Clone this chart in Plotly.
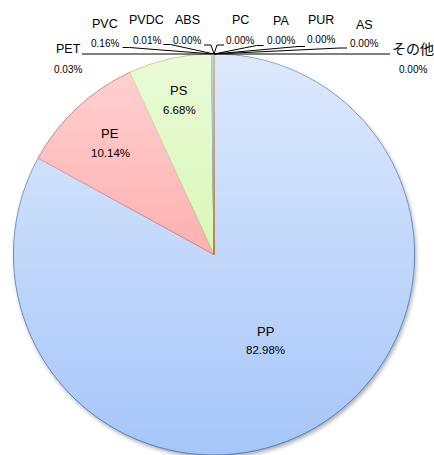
import base64
import math

import plotly.graph_objects as go

# Resin composition (share of total, %)
materials = ["PP", "PE", "PS", "PET", "PVC", "PVDC", "ABS", "PC", "PA", "PUR", "AS", "その他"]
shares = [82.98, 10.14, 6.68, 0.03, 0.16, 0.01, 0.00, 0.00, 0.00, 0.00, 0.00, 0.00]

fill_colors = ["#a6c6f9", "#ff8c8c", "#c8f496", "#8064a2", "#5ba9cf", "#f79646",
               "#c0c0c0", "#c0c0c0", "#c0c0c0", "#c0c0c0", "#c0c0c0", "#c0c0c0"]
line_colors = ["#4f81bd", "#c0504d", "#9bbb59", "#4d3b62", "#3a8fb0", "#984807",
               "#984807", "#984807", "#984807", "#984807", "#984807", "#984807"]

W, H = 434, 455
CX, R = 214.0, 200.5
CY = H - R
FONT = "Liberation Sans, Noto Sans CJK JP, sans-serif"


def fx(x):
    return x / W


def fy(y):
    return 1 - y / H


total = sum(shares)
mid_angles = []
acc = 0.0
for v in shares:
    mid_angles.append((acc + v / 2) / total * 360.0)
    acc += v


def edge_point(theta_deg, frac=1.0):
    t = math.radians(theta_deg)
    return CX + R * frac * math.sin(t), CY - R * frac * math.cos(t)


pct_text = [f"{v:.2f}%" for v in shares]

fig = go.Figure()
fig.add_trace(go.Pie(
    labels=materials,
    values=shares,
    sort=False,
    direction="clockwise",
    rotation=0,
    textinfo="none",
    hoverinfo="label+percent",
    marker=dict(colors=fill_colors, line=dict(color=line_colors, width=1)),
    domain=dict(x=[fx(CX - R), fx(CX + R)], y=[0, fy(CY - R)]),
    showlegend=False,
))

annotations = []
shapes = []

# labels inside the three large slices
inner_frac = {"PP": 0.5, "PE": 0.76, "PS": 0.79}
for i, name in enumerate(materials):
    if name not in inner_frac:
        continue
    x, y = edge_point(mid_angles[i], inner_frac[name])
    annotations.append(dict(x=fx(x), y=fy(y - 9.5), text=name, font=dict(size=13)))
    annotations.append(dict(x=fx(x), y=fy(y + 9.5), text=pct_text[i], font=dict(size=11.5)))

# callout labels for the small slices: name centre, value line, leader attach point, side
callouts = {
    "PET": (68, 49, 69, (82, 54), "left"),
    "PVC": (105, 24, 43, (122.5, 47.5), "left"),
    "PVDC": (146.5, 20, 40, (163.5, 44.5), "left"),
    "ABS": (187, 20, 40, (204, 45), "left"),
    "PC": (240, 20.5, 40.5, (224, 45), "right"),
    "PA": (280.5, 21, 40.5, (263.5, 45.5), "right"),
    "PUR": (321, 20, 39, (305, 46.5), "right"),
    "AS": (364, 25, 43.5, (347, 48), "right"),
    "その他": (413, 49, 69, (390, 54), "right"),
}
for i, name in enumerate(materials):
    if name not in callouts:
        continue
    cx, ny, vy, (ax, ay), side = callouts[name]
    name_size = 14 if name == "その他" else 12.5
    annotations.append(dict(x=fx(cx), y=fy(ny), text=name, font=dict(size=name_size)))
    annotations.append(dict(x=fx(cx), y=fy(vy), text=pct_text[i], font=dict(size=10)))
    ex, ey = edge_point(mid_angles[i])
    step = 7 if side == "left" else -7
    bx = ax + step
    if (side == "left" and bx > ex) or (side == "right" and bx < ex):
        bx = ax
    path = f"M {fx(ax)},{fy(ay)} L {fx(bx)},{fy(ay)} L {fx(ex)},{fy(ey)}"
    shapes.append(dict(type="path", path=path, xref="paper", yref="paper",
                       line=dict(color="#000000", width=1), layer="above"))

for a in annotations:
    a.update(xref="paper", yref="paper", showarrow=False,
             xanchor="center", yanchor="middle")
    a["font"].update(family=FONT, color="#000000")

# soft vertical sheen over the disc and a light drop shadow beneath it
sheen_svg = (
    '<svg xmlns="http://www.w3.org/2000/svg" width="200" height="200" viewBox="0 0 100 100" '
    'preserveAspectRatio="none"><defs><linearGradient id="g" x1="0" y1="0" x2="0" y2="1">'
    '<stop offset="0" stop-color="#ffffff" stop-opacity="0.62"/>'
    '<stop offset="1" stop-color="#ffffff" stop-opacity="0"/></linearGradient></defs>'
    '<circle cx="50" cy="50" r="50" fill="url(#g)"/></svg>'
)
pad = 10
size = 2 * R + 2 * pad
shadow_svg = (
    f'<svg xmlns="http://www.w3.org/2000/svg" width="{size}" height="{size}" '
    f'viewBox="0 0 {size} {size}"><defs><filter id="b" x="-10%" y="-10%" width="120%" height="120%">'
    '<feGaussianBlur stdDeviation="2"/></filter></defs>'
    f'<circle cx="{pad + R + 1.5}" cy="{pad + R + 2.5}" r="{R}" fill="#000000" '
    'fill-opacity="0.35" filter="url(#b)"/></svg>'
)


def data_uri(svg):
    return "data:image/svg+xml;base64," + base64.b64encode(svg.encode("utf-8")).decode("ascii")


images = [
    dict(source=data_uri(shadow_svg), xref="paper", yref="paper",
         x=fx(CX - R - pad), y=fy(CY - R - pad), sizex=size / W, sizey=size / H,
         xanchor="left", yanchor="top", sizing="stretch", layer="below"),
    dict(source=data_uri(sheen_svg), xref="paper", yref="paper",
         x=fx(CX - R), y=fy(CY - R), sizex=2 * R / W, sizey=2 * R / H,
         xanchor="left", yanchor="top", sizing="stretch", layer="above"),
]

fig.update_layout(
    width=W, height=H,
    margin=dict(l=0, r=0, t=0, b=0),
    paper_bgcolor="#ffffff",
    plot_bgcolor="#ffffff",
    annotations=annotations,
    shapes=shapes,
    images=images,
    font=dict(family=FONT),
)

fig.write_html("out.html")
